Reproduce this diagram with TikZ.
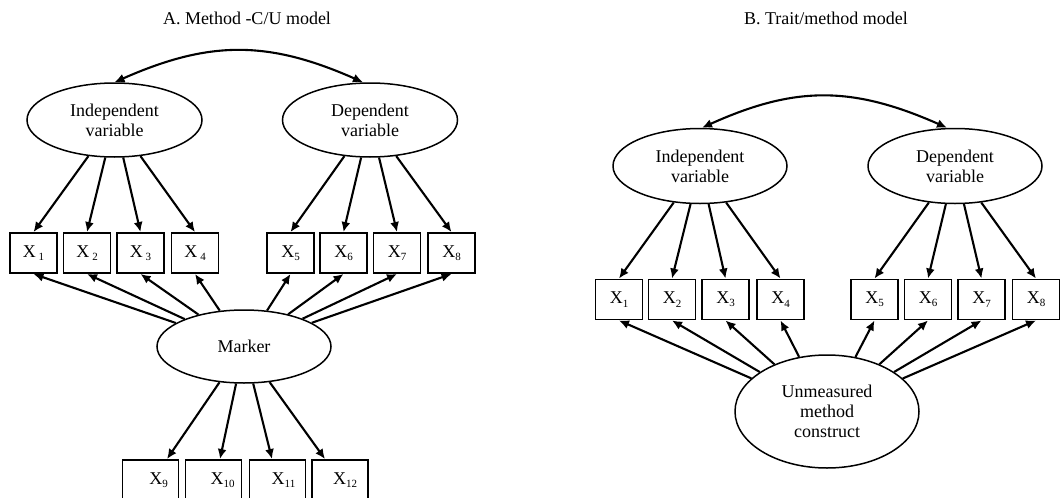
\documentclass[tikz,border=0pt]{standalone}
\usepackage{fontspec}
\setmainfont{Liberation Serif}
\usetikzlibrary{shapes.geometric,arrows.meta,calc}
\newcommand{\xsub}[1]{X\raisebox{-0.4ex}{\fontsize{11}{11}\selectfont #1}}
\newcommand{\xsubsp}[1]{X\,\raisebox{-0.4ex}{\fontsize{11}{11}\selectfont #1}}
\begin{document}
\begin{tikzpicture}[x=1pt,y=-1pt,
  lat/.style={draw, ellipse, line width=1.5pt, inner sep=0pt, align=center,
    font=\fontsize{18}{20}\selectfont},
  obs/.style={draw, rectangle, line width=1.9pt, minimum width=47pt,
    minimum height=40pt, inner sep=0pt, font=\fontsize{18}{20}\selectfont},
  obsw/.style={obs, minimum width=56pt},
  ar/.style={line width=2.1pt, -{Latex[length=10pt,width=9pt]}},
  cov/.style={line width=2.1pt, {Latex[length=10pt,width=9pt]}-{Latex[length=10pt,width=9pt]}},
  ttl/.style={font=\fontsize{18}{20}\selectfont}
]
\clip (0,0) rectangle (1061,498);
% ---------- Panel A ----------
\node[ttl] (ta) at (247,18) {A. Method -C/U model};
\node[lat, minimum width=175pt, minimum height=74pt] (iva) at (114.5,120) {Independent\\variable};
\node[lat, minimum width=175pt, minimum height=74pt] (dva) at (370,120) {Dependent\\variable};
\node[lat, minimum width=174pt, minimum height=73pt] (mk) at (244,346.5) {Marker};
\node[obs] (a1) at (33.5,253) {\xsubsp{1}};
\node[obs] (a2) at (87,253) {\xsubsp{2}};
\node[obs] (a3) at (140.5,253) {\xsubsp{3}};
\node[obs] (a4) at (195,253) {\xsubsp{4}};
\node[obs] (a5) at (290.5,253) {\xsub{5}};
\node[obs] (a6) at (343.5,253) {\xsub{6}};
\node[obs] (a7) at (397,253) {\xsub{7}};
\node[obs] (a8) at (451.5,253) {\xsub{8}};
\node[obsw] (a9) at (150.5,480) {\hspace*{16pt}\xsub{9}};
\node[obsw] (a10) at (213.5,480) {\hspace*{18pt}\xsub{10}};
\node[obsw] (a11) at (277.5,480) {\hspace*{12pt}\xsub{11}};
\node[obsw] (a12) at (340,480) {\hspace*{10pt}\xsub{12}};
\draw[cov] (iva.north) .. controls ($(iva.north)+(95,-42)$) and ($(dva.north)+(-102,-42)$) .. ([xshift=-7pt]dva.north);
\foreach \i in {1,2,3,4} \draw[ar] (iva) -- (a\i.north);
\foreach \i in {5,6,7,8} \draw[ar] (dva) -- (a\i.north);
\foreach \i in {1,...,8} \draw[ar] (mk) -- (a\i.south);
\draw[ar] (mk) -- ([xshift=16.5pt]a9.north);
\draw[ar] (mk) -- ([xshift=6.5pt]a10.north);
\draw[ar] (mk) -- ([xshift=-5.5pt]a11.north);
\draw[ar] (mk) -- ([xshift=-15pt]a12.north);
% ---------- Panel B ----------
\node[ttl] (tb) at (826,18) {B. Trait/method model};
\node[lat, minimum width=174pt, minimum height=75pt] (ivb) at (700,166) {Independent\\variable};
\node[lat, minimum width=174pt, minimum height=75pt] (dvb) at (955,166) {Dependent\\variable};
\node[lat, minimum width=184pt, minimum height=113pt] (um) at (827,411.5) {Unmeasured\\method\\construct};
\node[obs] (b1) at (619,299.5) {\xsub{1}};
\node[obs] (b2) at (672,299.5) {\xsub{2}};
\node[obs] (b3) at (725.5,299.5) {\xsub{3}};
\node[obs] (b4) at (780.5,299.5) {\xsub{4}};
\node[obs] (b5) at (874.5,299.5) {\xsub{5}};
\node[obs] (b6) at (928,299.5) {\xsub{6}};
\node[obs] (b7) at (981.5,299.5) {\xsub{7}};
\node[obs] (b8) at (1036,299.5) {\xsub{8}};
\draw[cov] ([xshift=2pt]ivb.north) .. controls ($(ivb.north)+(95,-42)$) and ($(dvb.north)+(-103,-42)$) .. ([xshift=-8pt]dvb.north);
\foreach \i in {1,2,3,4} \draw[ar] (ivb) -- (b\i.north);
\foreach \i in {5,6,7,8} \draw[ar] (dvb) -- (b\i.north);
\foreach \i in {1,...,8} \draw[ar] (um) -- (b\i.south);
\end{tikzpicture}
\end{document}
